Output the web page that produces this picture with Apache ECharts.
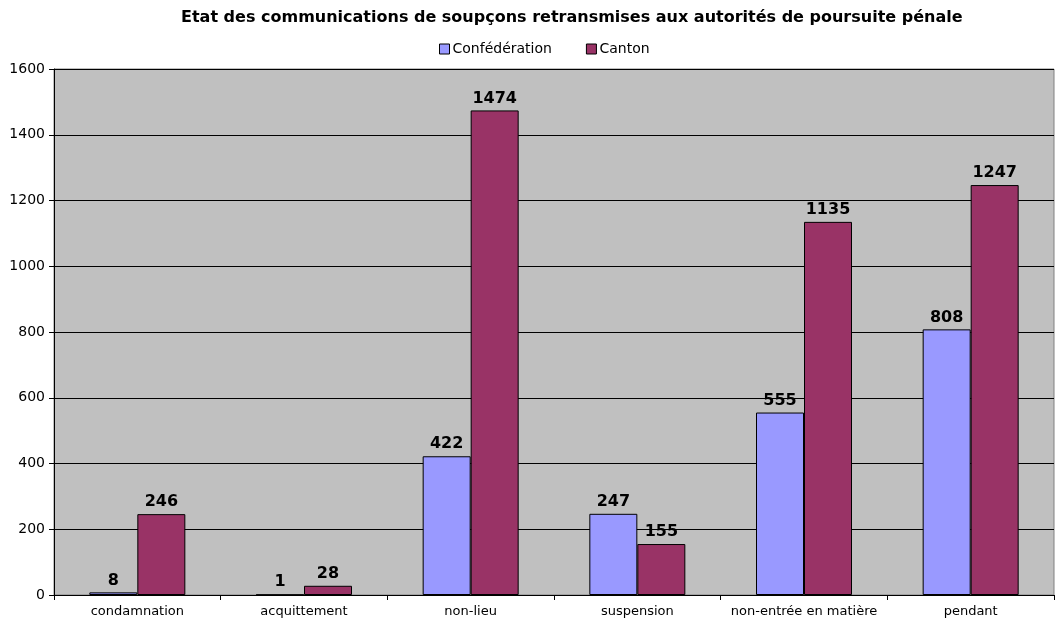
<!DOCTYPE html>
<html>
<head>
<meta charset="utf-8">
<script src="https://cdn.jsdelivr.net/npm/echarts@6/dist/echarts.min.js"></script>
<style>
    html, body { margin: 0; padding: 0; background: #fff; }
    #chart { width: 1056px; height: 628px; }
</style>
</head>
<body>
<div id="chart"></div>
<script>
var categories = ['condamnation', 'acquittement', 'non-lieu', 'suspension', 'non-entrée en matière', 'pendant'];
var confederation = [8, 1, 422, 247, 555, 808];
var canton = [246, 28, 1474, 155, 1135, 1247];

var chart = echarts.init(document.getElementById('chart'));

var font = 'DejaVu Sans, Verdana, sans-serif';

function barLabel() {
    return {
        show: true,
        position: 'top',
        distance: 4,
        color: '#000',
        fontFamily: font,
        fontWeight: 'bold',
        fontSize: 16
    };
}

var option = {
    animation: false,
    title: {
        text: 'Etat des communications de soupçons retransmises aux autorités de poursuite pénale',
        left: 176,
        top: 5,
        textStyle: {
            fontFamily: font,
            fontWeight: 'bold',
            fontSize: 16,
            color: '#000'
        }
    },
    legend: {
        top: 37,
        left: 434,
        itemWidth: 10,
        itemHeight: 10,
        itemGap: 34,
        icon: 'rect',
        textStyle: {
            fontFamily: font,
            fontSize: 14,
            color: '#000',
            padding: [0, 0, 0, -2]
        },
        data: [
            { name: 'Confédération', itemStyle: { borderColor: '#000', borderWidth: 1 } },
            { name: 'Canton', itemStyle: { borderColor: '#000', borderWidth: 1 } }
        ]
    },
    grid: {
        left: 54,
        right: 2,
        top: 69,
        bottom: 33,
        show: true,
        backgroundColor: '#C0C0C0',
        borderColor: '#808080',
        borderWidth: 1
    },
    xAxis: {
        type: 'category',
        data: categories,
        axisLine: { lineStyle: { color: '#000' } },
        axisTick: { show: true, length: 5, lineStyle: { color: '#000' } },
        axisLabel: {
            interval: 0,
            fontFamily: font,
            fontSize: 13,
            color: '#000',
            margin: 10
        }
    },
    yAxis: {
        type: 'value',
        min: 0,
        max: 1600,
        interval: 200,
        axisLine: { show: true, lineStyle: { color: '#000' } },
        axisTick: { show: true, length: 5, lineStyle: { color: '#000' } },
        axisLabel: {
            fontFamily: font,
            fontSize: 14,
            color: '#000',
            margin: 9,
            formatter: function (v) { return String(v); }
        },
        splitLine: { lineStyle: { color: '#000', width: 1 } }
    },
    series: [
        {
            name: 'Confédération',
            type: 'bar',
            data: confederation,
            barWidth: 48,
            barGap: 0,
            itemStyle: { color: '#9999FF', borderColor: '#000', borderWidth: 1 },
            label: barLabel()
        },
        {
            name: 'Canton',
            type: 'bar',
            data: canton,
            barWidth: 48,
            barGap: 0,
            itemStyle: { color: '#993366', borderColor: '#000', borderWidth: 1 },
            label: barLabel()
        }
    ]
};

chart.setOption(option);
</script>
</body>
</html>
